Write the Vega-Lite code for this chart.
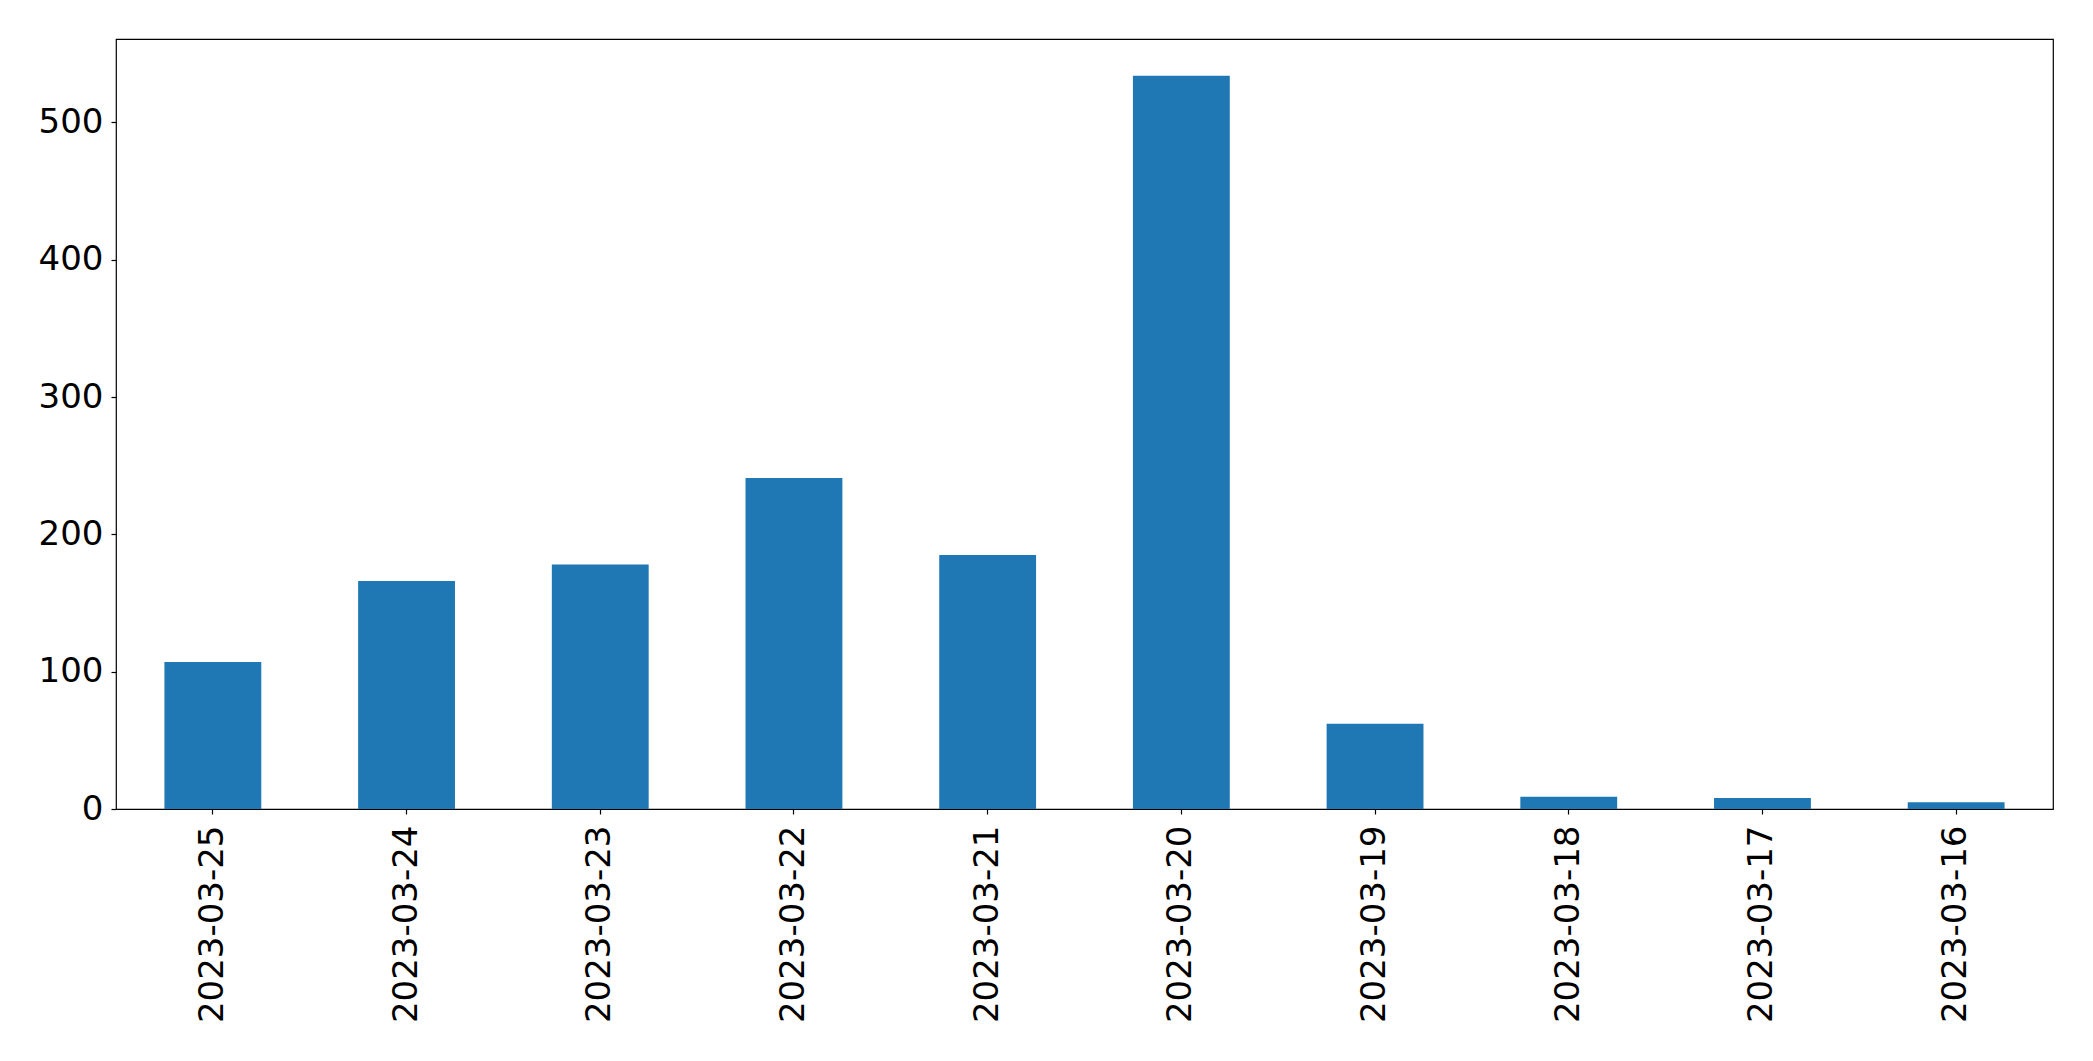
{
  "$schema": "https://vega.github.io/schema/vega-lite/v6.json",
  "autosize": {"type": "none"},
  "padding": {"left": 116, "top": 39, "right": 40, "bottom": 252},
  "width": 1937,
  "height": 770,
  "background": "white",
  "config": {
    "view": {"stroke": "black", "strokeWidth": 1.2},
    "axis": {
      "labelFont": "DejaVu Sans",
      "labelFontSize": 34,
      "labelColor": "black",
      "labelLimit": 0,
      "tickColor": "black",
      "tickSize": 5,
      "tickWidth": 1.2,
      "domain": false,
      "grid": false,
      "title": null
    }
  },
  "data": {
    "values": [
      {"date": "2023-03-25", "count": 107},
      {"date": "2023-03-24", "count": 166},
      {"date": "2023-03-23", "count": 178},
      {"date": "2023-03-22", "count": 241},
      {"date": "2023-03-21", "count": 185},
      {"date": "2023-03-20", "count": 534},
      {"date": "2023-03-19", "count": 62},
      {"date": "2023-03-18", "count": 9},
      {"date": "2023-03-17", "count": 8},
      {"date": "2023-03-16", "count": 5}
    ]
  },
  "mark": {"type": "bar", "color": "#1f77b4"},
  "encoding": {
    "x": {
      "field": "date",
      "type": "nominal",
      "sort": null,
      "scale": {"paddingInner": 0.5, "paddingOuter": 0.25},
      "axis": {"labelAngle": -90, "labelPadding": 11, "labelAlign": "right", "labelBaseline": "middle"}
    },
    "y": {
      "field": "count",
      "type": "quantitative",
      "scale": {"domain": [0, 560.7], "nice": false, "zero": true},
      "axis": {"values": [0, 100, 200, 300, 400, 500], "labelPadding": 8}
    }
  }
}
